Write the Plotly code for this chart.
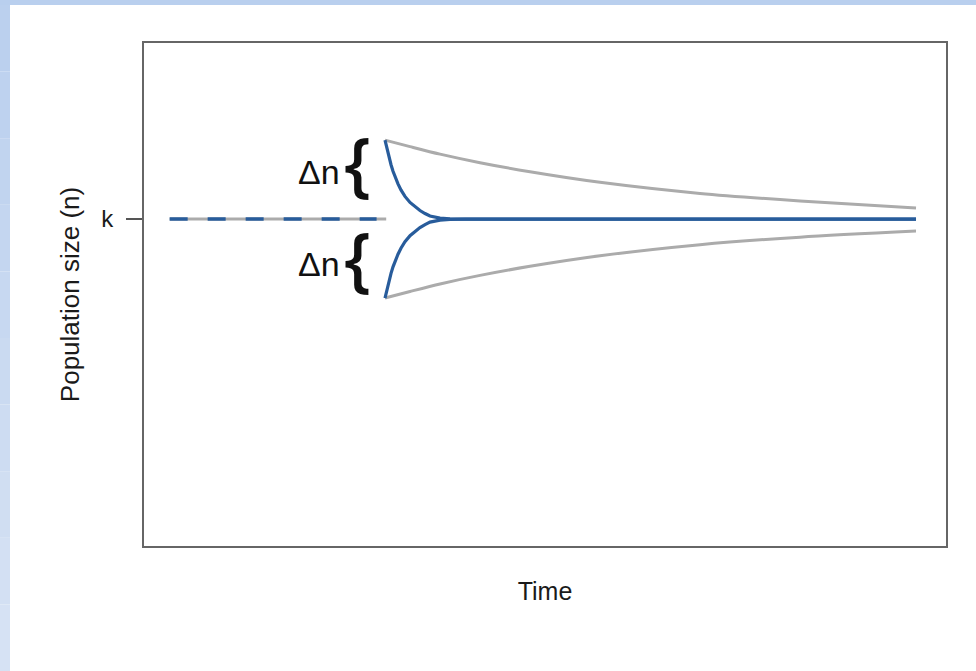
import plotly.graph_objects as go

# ---- data ----
k = 65.0
dashed_time = [3.2, 30.2]
dashed_pop = [k, k]

blue_time = [30.05, 30.30, 30.55, 30.80, 31.05, 31.30, 31.67, 32.04, 32.54, 33.17,
             33.79, 34.41, 35.04, 35.66, 36.91, 38.15, 40.02, 42.52, 96.26]
blue_upper = [80.7, 78.9, 77.2, 75.8, 74.5, 73.4, 72.0, 70.8, 69.5, 68.3,
              67.4, 66.7, 66.1, 65.6, 65.2, 65.05, 65.0, 65.0, 65.0]
blue_lower = [49.3, 51.1, 52.8, 54.2, 55.5, 56.6, 58.0, 59.2, 60.5, 61.7,
              62.6, 63.3, 63.9, 64.4, 64.8, 64.95, 65.0, 65.0, 65.0]

gray_time = [30.05, 33.17, 36.91, 41.90, 48.13, 56.86, 69.33, 81.80, 96.26]
gray_upper = [80.7, 79.4, 77.9, 76.2, 74.4, 72.3, 70.1, 68.6, 67.2]
gray_lower = [49.3, 50.6, 52.1, 53.8, 55.6, 57.7, 59.9, 61.4, 62.6]

delta_n = blue_upper[0] - k
tick_vals = [k]
tick_text = ["k"]

BLUE = "#285c9b"
GRAY = "#ababab"

fig = go.Figure()
# dashed equilibrium line (gray underlay + blue dashes)
fig.add_trace(go.Scatter(x=dashed_time, y=dashed_pop, mode="lines",
                         line=dict(color=GRAY, width=3), hoverinfo="skip"))
fig.add_trace(go.Scatter(x=[dashed_time[0], 29.0], y=dashed_pop, mode="lines",
                         line=dict(color=BLUE, width=3.4, dash="18px,20px"), hoverinfo="skip"))
# gray slow-return curves
for yy in (gray_upper, gray_lower):
    fig.add_trace(go.Scatter(x=gray_time, y=yy, mode="lines",
                             line=dict(color=GRAY, width=3, shape="spline", smoothing=0.8),
                             hoverinfo="skip"))
# blue fast-return curves
for yy in (blue_upper, blue_lower):
    fig.add_trace(go.Scatter(x=blue_time, y=yy, mode="lines",
                             line=dict(color=BLUE, width=3.2), hoverinfo="skip"))

# braces and delta-n labels
for sign, br_shift, dn_shift in ((1, 11, 1), (-1, 8, 1)):
    yc = k + sign * delta_n * 0.58
    fig.add_annotation(x=26.6, y=yc, text="{", showarrow=False,
                       font=dict(family="Open Sans", size=70, color="#111", weight=600),
                       xanchor="center", yanchor="middle", yshift=br_shift)
    fig.add_annotation(x=21.8, y=yc, text="Δn", showarrow=False,
                       font=dict(family="Liberation Sans", size=34, color="#111"),
                       xanchor="center", yanchor="middle", yshift=dn_shift)

# light blue page border bands
fig.add_shape(type="rect", xref="paper", yref="paper",
              x0=-144 / 802, x1=1 + 30 / 802, y0=(546 - 5) / 503, y1=546 / 503,
              fillcolor="#b9cfee", line_width=0, layer="below")
left_cols = ["#bbd0ee", "#bed2ef", "#c1d4ef", "#c4d6f0", "#c7d8f1",
             "#cadaf1", "#cddcf2", "#d0def2", "#d3e0f3", "#d6e2f4"]
n_seg = len(left_cols)
for i, c in enumerate(left_cols):
    ytop = 5 + i * (666 / n_seg)
    ybot = 5 + (i + 1) * (666 / n_seg)
    fig.add_shape(type="rect", xref="paper", yref="paper",
                  x0=-144 / 802, x1=(10 - 144) / 802,
                  y0=(546 - ybot) / 503, y1=(546 - ytop) / 503,
                  fillcolor=c, line_width=0, layer="below")

axis_font = dict(family="Liberation Sans", size=25, color="#1a1a1a")
fig.update_layout(
    width=976, height=671,
    margin=dict(l=144, r=30, t=43, b=125),
    paper_bgcolor="white", plot_bgcolor="white",
    showlegend=False,
    xaxis=dict(range=[0, 100], showgrid=False, zeroline=False, showticklabels=False,
               ticks="", showline=True, linecolor="#666", linewidth=2, mirror=True,
               title=dict(text="Time", font=axis_font, standoff=35)),
    yaxis=dict(range=[0, 100], showgrid=False, zeroline=False,
               tickvals=tick_vals, ticktext=tick_text, ticks="outside", ticklen=16,
               tickwidth=1.5, tickcolor="#555", tickfont=dict(family="Liberation Sans", size=24, color="#1a1a1a"),
               ticklabelstandoff=8,
               showline=True, linecolor="#666", linewidth=2, mirror=True,
               title=dict(text="Population size (n)", font=dict(family="Liberation Sans", size=26, color="#1a1a1a"), standoff=14)),
)
fig.write_html("out.html", config={"displayModeBar": False},
               post_script="document.body.style.margin='0px';")
